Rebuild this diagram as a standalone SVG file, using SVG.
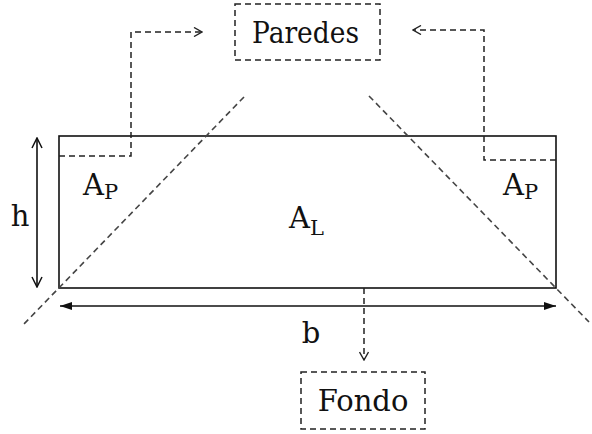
<svg xmlns="http://www.w3.org/2000/svg" width="592" height="434" viewBox="0 0 592 434">
<style>
text{font-family:"DejaVu Serif",serif;font-size:29px;fill:#111}
.s{font-size:21px}
.box{fill:none;stroke:#222;stroke-width:1.5;stroke-dasharray:6 4}
.dash{fill:none;stroke:#222;stroke-width:1.5;stroke-dasharray:6 4}
.diag{fill:none;stroke:#444;stroke-width:1.6;stroke-dasharray:6 4}
.solid{fill:none;stroke:#111;stroke-width:1.6}
</style>
<defs>
<marker id="open" viewBox="0 0 10 10" refX="9" refY="5" markerWidth="10" markerHeight="10" markerUnits="userSpaceOnUse" orient="auto">
<path d="M1,0.5 L9,5 L1,9.5" fill="none" stroke="#222" stroke-width="1.4"/>
</marker>
<marker id="openS" viewBox="0 0 12 12" refX="11" refY="6" markerWidth="12" markerHeight="12" markerUnits="userSpaceOnUse" orient="auto-start-reverse">
<path d="M1,1 L11,6 L1,11" fill="none" stroke="#111" stroke-width="1.5"/>
</marker>
<marker id="fill" viewBox="0 0 12 10" refX="12" refY="5" markerWidth="12" markerHeight="10" markerUnits="userSpaceOnUse" orient="auto-start-reverse">
<path d="M0,1 L12,5 L0,9 Z" fill="#111"/>
</marker>
</defs>
<g id="section">
<rect x="59" y="136" width="497" height="152" class="solid"/>
<text x="83" y="195">A<tspan class="s" dy="4">P</tspan></text>
<text x="503" y="195">A<tspan class="s" dy="4">P</tspan></text>
<text x="289" y="228">A<tspan class="s" dy="7">L</tspan></text>
</g>
<g id="diagonals">
<line x1="244" y1="97" x2="23" y2="325" class="diag"/>
<line x1="369" y1="96" x2="589" y2="322" class="diag"/>
</g>
<g id="dimensions">
<line x1="37" y1="138" x2="37" y2="287" class="solid" marker-start="url(#openS)" marker-end="url(#openS)"/>
<text x="20" y="226" text-anchor="middle">h</text>
<line x1="60" y1="306" x2="556" y2="306" class="solid" marker-start="url(#fill)" marker-end="url(#fill)"/>
<text x="311" y="343" text-anchor="middle">b</text>
</g>
<g id="paredes">
<rect x="235" y="4" width="145" height="56" class="box"/>
<text x="252" y="43" textLength="107" lengthAdjust="spacingAndGlyphs">Paredes</text>
</g>
<g id="fondo">
<rect x="301" y="372" width="124" height="57" class="box"/>
<text x="363" y="411" text-anchor="middle">Fondo</text>
</g>
<g id="connectors">
<path d="M59,156 H131 V32 H202" class="dash" marker-end="url(#open)"/>
<path d="M556,160 H484 V30 H413" class="dash" marker-end="url(#open)"/>
<path d="M364,288 V360" class="dash" marker-end="url(#open)"/>
</g>
</svg>
